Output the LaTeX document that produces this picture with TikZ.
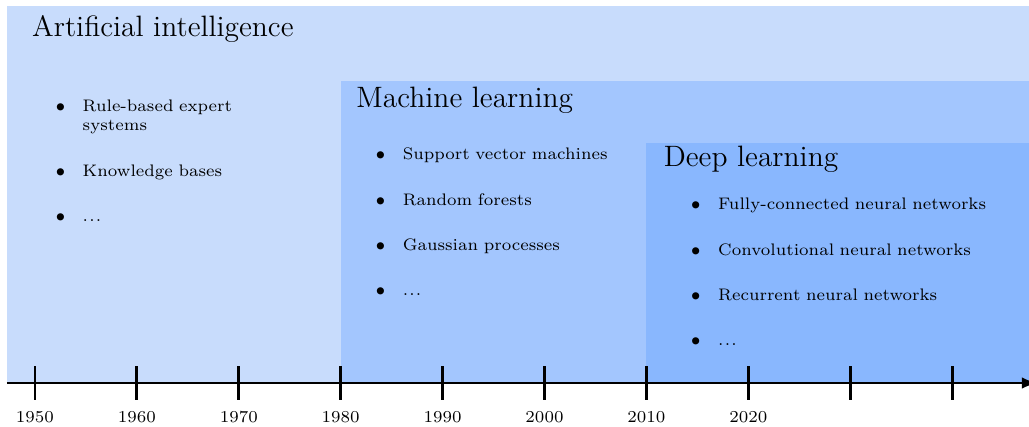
\documentclass[tikz,border=0pt]{standalone}
\usepackage{amsmath,amssymb}
\usepackage{tikz}

\definecolor{aiblue}{RGB}{200,220,252}
\definecolor{mlblue}{RGB}{163,198,254}
\definecolor{dlblue}{RGB}{137,183,254}

\newenvironment{points}{\renewcommand{\labelitemi}{$\bullet$}\begin{itemize}\setlength{\itemsep}{11pt}\setlength{\parskip}{0pt}\setlength{\labelsep}{7.3pt}}{\end{itemize}}

\tikzset{
  field/.style={anchor=base west, inner sep=0pt, font=\fontsize{12.35}{15}\selectfont},
  pointlist/.style={anchor=north west, inner sep=0pt, font=\scriptsize, text width=#1},
  year/.style={font=\scriptsize}
}

\begin{document}
\begin{tikzpicture}
\useasboundingbox (-0.515,-0.633) rectangle (14.632,5.638);
% nested fields
\fill[aiblue] (-0.412,0) rectangle (14.7,5.549);
\fill[mlblue] (4.5,0) rectangle (14.7,4.445);
\fill[dlblue] (9,0) rectangle (14.7,3.537);
% timeline
\draw[-latex, very thick] (-0.412,0) -- (14.75,0);
\foreach \i in {0,...,9}
  \draw[very thick] (1.5*\i,-0.25) -- (1.5*\i,0.25);
\foreach \yr [count=\i from 0] in {1950,1960,...,2020}
  \node[year] (y\yr) at (1.5*\i,-0.5) {\yr};
% titles
\node[field] (ai) at (-0.049,5.10) {Artificial intelligence};
\node[field] (ml) at (4.725,4.058) {Machine learning};
\node[field] (dl) at (9.249,3.194) {Deep learning};
% examples
\node[pointlist=3.38cm] (ai-list) at (-0.183,4.565) {%
  \begin{points}
  \item Rule-based expert systems
  \item Knowledge bases
  \item .\kern.07em.\kern.07em.
  \end{points}};
\node[pointlist=4.28cm] (ml-list) at (4.528,3.855) {%
  \begin{points}
  \item Support vector machines
  \item Random forests
  \item Gaussian processes
  \item .\kern.07em.\kern.07em.
  \end{points}};
\node[pointlist=5.28cm] (dl-list) at (9.171,3.119) {%
  \begin{points}
  \item Fully-connected neural networks
  \item Convolutional neural networks
  \item Recurrent neural networks
  \item .\kern.07em.\kern.07em.
  \end{points}};
\end{tikzpicture}
\end{document}
